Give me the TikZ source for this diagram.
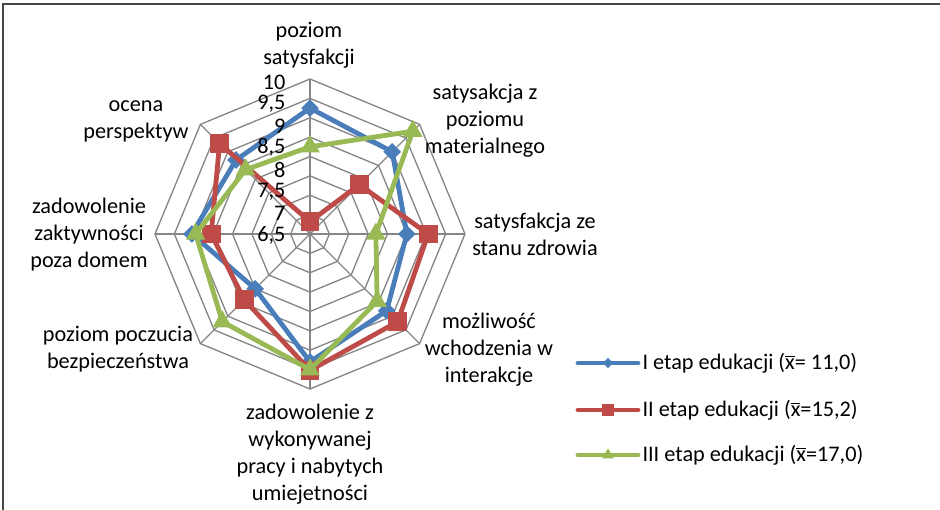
\documentclass[tikz,border=0pt]{standalone}
\usepackage{fontspec}
\setmainfont{Carlito}
\usetikzlibrary{shapes.geometric,calc}

\definecolor{serI}{RGB}{74,126,187}
\definecolor{serII}{RGB}{190,75,72}
\definecolor{serIII}{RGB}{152,185,84}
\definecolor{gridgray}{RGB}{134,134,134}
\definecolor{framegray}{RGB}{70,70,70}

\tikzset{every picture/.style={line width=0.75pt}}
\tikzset{
  gridline/.style={draw=gridgray, line width=1pt},
  seriesline/.style={line width=3.6pt, line join=round},
  mkdiamond/.style={diamond, fill=serI, inner sep=0pt, minimum size=13.5pt},
  mksquare/.style={rectangle, fill=serII, inner sep=0pt, minimum size=14pt},
  mktriangle/.style={regular polygon, regular polygon sides=3, fill=serIII, inner sep=0pt, minimum size=17pt},
  chartfont/.style={font=\fontsize{16.7}{20.25}\selectfont},
  axislabel/.style={chartfont, align=center, inner sep=0.75pt},
  ticklabel/.style={chartfont, anchor=east, inner sep=0.75pt},
  legendtext/.style={chartfont, anchor=west, inner sep=0.75pt},
}

\begin{document}
\begin{tikzpicture}[x=0.75pt,y=0.75pt,yscale=-1,xscale=1]
    \useasboundingbox (0,0) rectangle (940,510);

    %Frame
    \draw [framegray, line width=1.2pt] (3,510) -- (3,4) -- (940,4) ;

    \begin{scope}[shift={(310,234)}]
    %Grid rings (6,5 ... 10)
    \foreach \i in {1,...,8}
      \draw [gridline] (-90:{\i*19.375}) -- (-45:{\i*19.375}) -- (0:{\i*19.375}) -- (45:{\i*19.375})
        -- (90:{\i*19.375}) -- (135:{\i*19.375}) -- (180:{\i*19.375}) -- (225:{\i*19.375}) -- cycle ;
    %Spokes
    \foreach \k in {0,...,7}
      \draw [gridline] (0,0) -- ({-90+45*\k}:155) ;

    %I etap edukacji
    \foreach \v [count=\k from 0] in {9.25,9.0,8.5,8.8,9.3,8.0,9.05,8.7}
      \coordinate (a\k) at ({-90+45*\k}:{(\v-6)*38.75}) ;
    \draw [seriesline, serI] (a0) -- (a1) -- (a2) -- (a3) -- (a4) -- (a5) -- (a6) -- (a7) -- cycle ;
    \foreach \k in {0,...,7}
      \node [mkdiamond] (ma\k) at (a\k) {} ;

    %II etap edukacji
    \foreach \v [count=\k from 0] in {6.32,7.8,9.05,9.2,9.52,8.4,8.55,9.3}
      \coordinate (b\k) at ({-90+45*\k}:{(\v-6)*38.75}) ;
    \draw [seriesline, serII] (b0) -- (b1) -- (b2) -- (b3) -- (b4) -- (b5) -- (b6) -- (b7) -- cycle ;
    \foreach \k in {0,...,7}
      \node [mksquare] (mb\k) at (b\k) {} ;

    %III etap edukacji
    \foreach \v [count=\k from 0] in {8.25,9.75,7.7,8.45,9.5,9.2,8.95,8.35}
      \coordinate (c\k) at ({-90+45*\k}:{(\v-6)*38.75}) ;
    \draw [seriesline, serIII] (c0) -- (c1) -- (c2) -- (c3) -- (c4) -- (c5) -- (c6) -- (c7) -- cycle ;
    \foreach \k in {0,...,7}
      \node [mktriangle] (mc\k) at (c\k) {} ;
    \end{scope}

    %Scale labels
    \foreach \t [count=\k from 0] in {10,{9,5},9,{8,5},8,{7,5},7,{6,5}}
      \node [ticklabel] (tk\k) at (287,{82+21.9*\k}) {\t} ;

    % Axis labels
    \node [axislabel] (lblSat) at (309,45) {poziom\\satysfakcji} ;
    \node [axislabel] (lblMat) at (485,121) {satysakcja z\\poziomu\\materialnego} ;
    \node [axislabel] (lblZdr) at (535,234) {satysfakcja ze\\stanu zdrowia} ;
    \node [axislabel] (lblInt) at (489,350) {możliwość\\wchodzenia w\\interakcje} ;
    \node [axislabel] (lblPraca) at (310,454) {zadowolenie z\\wykonywanej\\pracy i nabytych\\umiejetności} ;
    \node [axislabel] (lblBezp) at (118,349) {poziom poczucia\\bezpieczeństwa} ;
    \node [axislabel] (lblAkt) at (89,235) {zadowolenie\\zaktywności\\poza domem} ;
    \node [axislabel] (lblPersp) at (136,121) {ocena\\perspektyw} ;

    % Legend
    \coordinate (lgIa) at (578,363) ; \coordinate (lgIb) at (638,363) ;
    \coordinate (lgIIa) at (578,410) ; \coordinate (lgIIb) at (638,410) ;
    \coordinate (lgIIIa) at (578,455) ; \coordinate (lgIIIb) at (638,455) ;
    \draw [seriesline, serI, line cap=round] (lgIa) -- (lgIb) ;
    \node [mkdiamond, minimum size=8pt] (lgImk) at ($(lgIa)!0.5!(lgIb)$) {} ;
    \node [legendtext] (legI) at (641,363) {I etap edukacji (\(\overline{\mbox{x}}\)= 11,0)} ;
    \draw [seriesline, serII, line cap=round] (lgIIa) -- (lgIIb) ;
    \node [mksquare, minimum size=9pt] (lgIImk) at ($(lgIIa)!0.5!(lgIIb)$) {} ;
    \node [legendtext] (legII) at (641,410) {II etap edukacji (\(\overline{\mbox{x}}\)=15,2)} ;
    \draw [seriesline, serIII, line cap=round] (lgIIIa) -- (lgIIIb) ;
    \node [mktriangle, minimum size=10pt] (lgIIImk) at ($(lgIIIa)!0.5!(lgIIIb)$) {} ;
    \node [legendtext] (legIII) at (641,455) {III etap edukacji (\(\overline{\mbox{x}}\)=17,0)} ;

\end{tikzpicture}
\end{document}
